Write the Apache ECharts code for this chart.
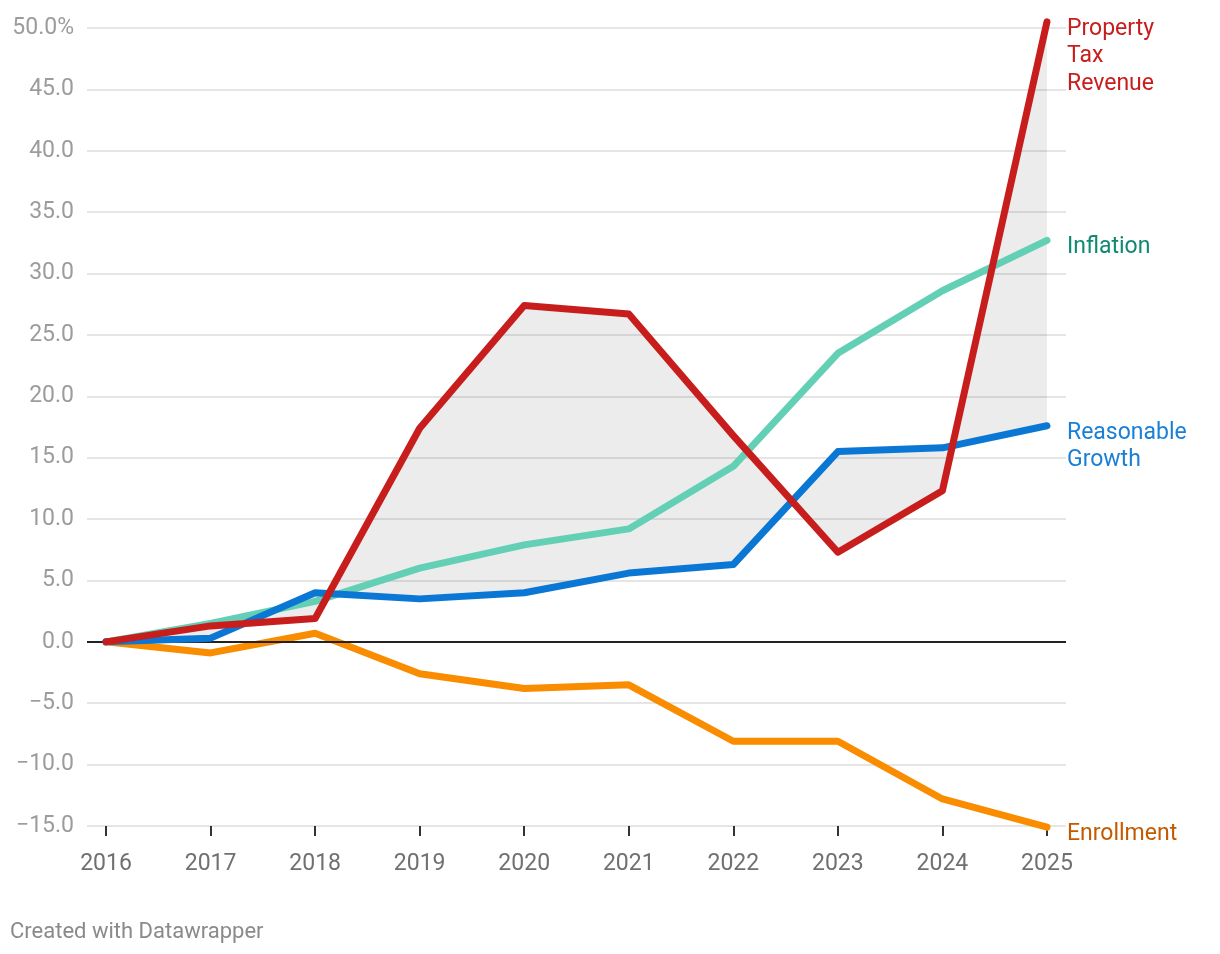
<!DOCTYPE html>
<html>
<head>
<meta charset="utf-8">
<script src="https://cdn.jsdelivr.net/npm/echarts@6/dist/echarts.min.js"></script>
<style>
  html, body { margin: 0; padding: 0; background: #fff; }
  #chart { width: 1220px; height: 954px; }
</style>
</head>
<body>
<div id="chart"></div>
<script>
const YEARS = [2016, 2017, 2018, 2019, 2020, 2021, 2022, 2023, 2024, 2025];
const PROPERTY_TAX = [0, 1.3, 1.9, 17.4, 27.4, 26.7, 16.8, 7.3, 12.3, 50.5];
const INFLATION = [0, 1.5, 3.3, 6.0, 7.9, 9.2, 14.3, 23.5, 28.6, 32.7];
const REASONABLE_GROWTH = [0, 0.3, 4.0, 3.5, 4.0, 5.6, 6.3, 15.5, 15.8, 17.6];
const ENROLLMENT = [0, -0.9, 0.7, -2.6, -3.8, -3.5, -8.1, -8.1, -12.8, -15.1];
const Y_MIN = -15, Y_MAX = 50, Y_STEP = 5;
const SERIES_NAMES = ['Property\nTax\nRevenue', 'Inflation', 'Reasonable\nGrowth', 'Enrollment'];

const FONT = 'Roboto';
const pairs = arr => YEARS.map((y, i) => [y, arr[i]]);
const fmtY = v => {
  const s = Math.abs(v).toFixed(1);
  if (v === Y_MAX) return s + '%';
  return v < 0 ? '\u2212' + s : s;
};

const LABEL_LH = 27.5;
function lineSeries(name, data, color, labelColor, nLines, z) {
  return {
    type: 'line',
    name: name,
    data: pairs(data),
    showSymbol: false,
    symbol: 'none',
    clip: false,
    z: z,
    silent: true,
    lineStyle: { color: color, width: 7, cap: 'round', join: 'round' },
    emphasis: { disabled: true },
    endLabel: {
      show: true,
      formatter: () => name,
      color: labelColor,
      fontFamily: FONT,
      fontSize: 23,
      lineHeight: LABEL_LH,
      distance: 20,
      offset: [0, (nLines - 1) * LABEL_LH / 2 + 7]
    }
  };
}

const chart = echarts.init(document.getElementById('chart'), null, { renderer: 'canvas' });
chart.setOption({
  animation: false,
  backgroundColor: '#ffffff',
  title: {
    text: 'Created with Datawrapper',
    left: 10,
    top: 921,
    padding: 0,
    textStyle: { fontFamily: FONT, fontSize: 22, fontWeight: 'normal', color: '#8a8a8a' }
  },
  grid: { left: 87, right: 154, top: 28, bottom: 128, containLabel: false },
  xAxis: {
    type: 'value',
    min: 2016 - 0.182,
    max: 2025 + 0.182,
    splitLine: { show: false },
    axisLine: { show: false, onZero: false },
    axisTick: { show: true, customValues: YEARS, length: 10, lineStyle: { color: '#333', width: 2 } },
    axisLabel: {
      customValues: YEARS,
      formatter: v => String(v),
      fontFamily: FONT, fontSize: 23, color: '#707070', margin: 27
    }
  },
  yAxis: {
    type: 'value',
    min: Y_MIN,
    max: Y_MAX,
    interval: Y_STEP,
    axisLine: { show: false },
    axisTick: { show: false },
    splitLine: { show: true, lineStyle: { color: '#e5e5e5', width: 2 } },
    axisLabel: { formatter: fmtY, fontFamily: FONT, fontSize: 23, color: '#9c9c9c', margin: 13 }
  },
  series: [
    {
      type: 'custom',
      name: 'range',
      silent: true,
      clip: false,
      z: 1,
      data: [[YEARS[0], 0]],
      renderItem: function (params, api) {
        if (params.dataIndex !== 0) return;
        const pts = [];
        for (let i = 0; i < YEARS.length; i++) pts.push(api.coord([YEARS[i], PROPERTY_TAX[i]]));
        for (let i = YEARS.length - 1; i >= 0; i--) pts.push(api.coord([YEARS[i], REASONABLE_GROWTH[i]]));
        return { type: 'polygon', shape: { points: pts }, style: { fill: 'rgba(0,0,0,0.075)' } };
      }
    },
    Object.assign(lineSeries(SERIES_NAMES[3], ENROLLMENT, '#fa8c00', '#c45a00', 1, 3), {
      markLine: {
        silent: true,
        symbol: ['none', 'none'],
        label: { show: false },
        lineStyle: { color: '#222', width: 2, type: 'solid' },
        data: [{ yAxis: 0 }]
      }
    }),
    lineSeries(SERIES_NAMES[1], INFLATION, '#63d0b5', '#0e8a72', 1, 4),
    lineSeries(SERIES_NAMES[2], REASONABLE_GROWTH, '#0a77d5', '#1a7fd6', 2, 5),
    lineSeries(SERIES_NAMES[0], PROPERTY_TAX, '#c71e1d', '#c71e1d', 3, 6)
  ]
});
</script>
</body>
</html>
